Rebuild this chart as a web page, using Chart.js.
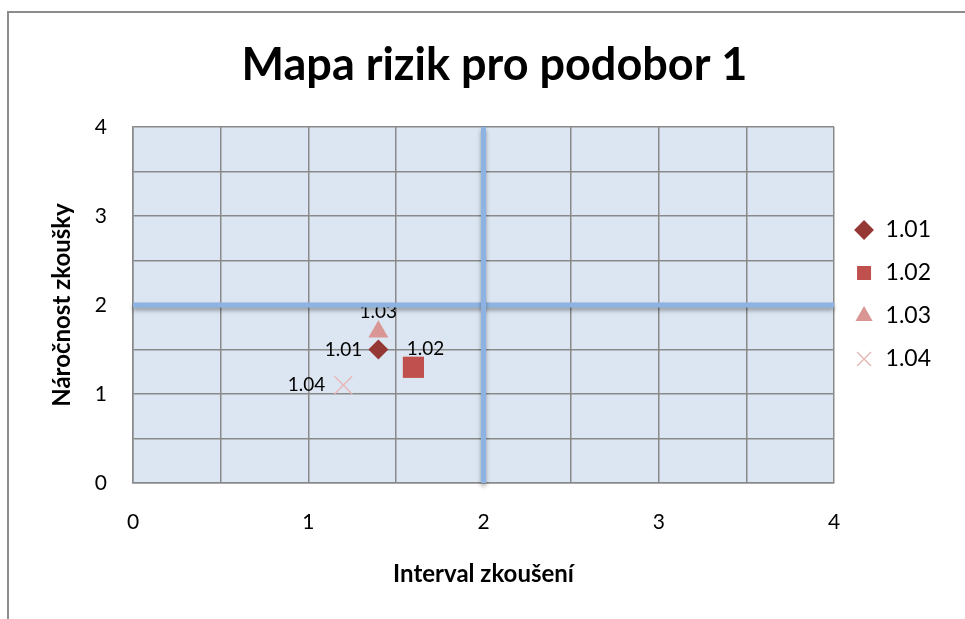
<!DOCTYPE html>
<html>
<head>
<meta charset="utf-8">
<script src="https://cdn.jsdelivr.net/npm/chart.js@4.4.0/dist/chart.umd.min.js"></script>
<style>
html, body { margin: 0; padding: 0; background: #fff; }
#wrap { position: relative; width: 965px; height: 619px; overflow: hidden; }
#frame { position: absolute; left: 7px; top: 11px; width: 990px; height: 650px; border: 2px solid #8c8c8c; box-sizing: border-box; }
canvas { position: absolute; left: 0; top: 0; }
</style>
</head>
<body>
<div id="wrap">
  <div id="frame"></div>
  <canvas id="riskChart" width="965" height="619"></canvas>
</div>
<script>
// data
const seriesNames = ['1.01', '1.02', '1.03', '1.04'];
const xValues = [1.4, 1.6, 1.4, 1.2];   // Interval zkoušení
const yValues = [1.5, 1.3, 1.7, 1.1];   // Náročnost zkoušky
const axisMin = 0;
const axisMax = 4;
const gridStep = 0.5;
const threshold = 2;  // hranice kvadrantů

// styl
const markerColors = ['#953735', '#c0504d', '#d99694', '#e6b9b8'];
const markerStyles = ['rectRot', 'rect', 'triangle', 'crossRot'];
const markerSizes = [10, 15, 11.5, 12.5];
const labelOffsets = [
    { dx: -16, dy: 0, align: 'right' },
    { dx: 12, dy: -18, align: 'center' },
    { dx: 0, dy: -20, align: 'center' },
    { dx: -18, dy: 0, align: 'right' }
];
const fontFamily = 'Lato, "Open Sans", sans-serif';

const datasets = seriesNames.map((name, i) => ({
    label: name,
    data: [{ x: xValues[i], y: yValues[i] }],
    pointStyle: markerStyles[i],
    pointRadius: markerSizes[i],
    pointHoverRadius: markerSizes[i],
    backgroundColor: markerColors[i],
    borderColor: markerColors[i],
    borderWidth: markerStyles[i] === 'crossRot' ? 1.5 : 0,
    pointLabel: true
}));

// modré čáry kvadrantů
const quadrantLine = {
    showLine: true,
    borderColor: '#8db3e2',
    borderWidth: 5,
    pointRadius: 0,
    pointHoverRadius: 0,
    clip: false,
    quadrant: true
};
datasets.push(Object.assign({ label: 'v', data: [{ x: threshold, y: axisMin }, { x: threshold, y: axisMax }] }, quadrantLine));
datasets.push(Object.assign({ label: 'h', data: [{ x: axisMin, y: threshold }, { x: axisMax, y: threshold }] }, quadrantLine));

const plotBackground = {
    id: 'plotBackground',
    beforeDraw(chart) {
        const { ctx, chartArea } = chart;
        ctx.save();
        ctx.fillStyle = '#dce6f2';
        ctx.fillRect(chartArea.left, chartArea.top, chartArea.right - chartArea.left, chartArea.bottom - chartArea.top);
        ctx.restore();
    }
};

// popisky bodů se kreslí před datasety, čára je překryje
const pointLabels = {
    id: 'pointLabels',
    beforeDatasetsDraw(chart) {
        const ctx = chart.ctx;
        ctx.save();
        ctx.font = '19px ' + fontFamily;
        ctx.fillStyle = '#000';
        ctx.textBaseline = 'middle';
        chart.data.datasets.forEach((ds, i) => {
            if (!ds.pointLabel) return;
            const pt = chart.getDatasetMeta(i).data[0];
            const off = labelOffsets[i];
            ctx.textAlign = off.align;
            ctx.fillText(ds.label, pt.x + off.dx, pt.y + off.dy);
        });
        ctx.restore();
    }
};

const lineShadow = {
    id: 'lineShadow',
    beforeDatasetDraw(chart, args) {
        if (!args.meta._dataset.quadrant) return;
        const ctx = chart.ctx;
        ctx.save();
        ctx.shadowColor = 'rgba(0,0,0,0.35)';
        ctx.shadowBlur = 4;
        ctx.shadowOffsetY = 3;
    },
    afterDatasetDraw(chart, args) {
        if (!args.meta._dataset.quadrant) return;
        chart.ctx.restore();
    }
};

const tickLabel = v => Number.isInteger(v) ? v : '';

const riskChart = new Chart(document.getElementById('riskChart'), {
    type: 'scatter',
    data: { datasets: datasets },
    options: {
        responsive: false,
        animation: false,
        devicePixelRatio: 1,
        layout: { padding: { left: 48, top: 0, right: 24, bottom: 30 } },
        plugins: {
            title: {
                display: true,
                text: 'Mapa rizik pro podobor 1',
                color: '#000',
                font: { family: fontFamily, size: 45, weight: 'bold', lineHeight: 1.2 },
                padding: { top: 38, bottom: 35 }
            },
            legend: {
                position: 'right',
                labels: {
                    filter: item => item.datasetIndex < seriesNames.length,
                    usePointStyle: true,
                    boxWidth: 20,
                    boxHeight: 14,
                    padding: 20,
                    color: '#000',
                    font: { family: fontFamily, size: 23 }
                }
            },
            tooltip: { enabled: false }
        },
        scales: {
            x: {
                type: 'linear',
                min: axisMin,
                max: axisMax,
                afterFit: scale => { scale.height = 106; },
                ticks: {
                    stepSize: gridStep,
                    autoSkip: false,
                    maxRotation: 0,
                    padding: 27,
                    color: '#000',
                    font: { family: fontFamily, size: 21 },
                    callback: tickLabel
                },
                grid: { color: '#8a8a8a', lineWidth: 1.5, drawTicks: false },
                border: { color: '#8a8a8a', width: 1.5 },
                title: {
                    display: true,
                    text: 'Interval zkoušení',
                    color: '#000',
                    font: { family: fontFamily, size: 24, weight: 'bold', lineHeight: 1.2 },
                    padding: { top: 0, bottom: 0 }
                }
            },
            y: {
                type: 'linear',
                min: axisMin,
                max: axisMax,
                afterFit: scale => { scale.width = 85; },
                ticks: {
                    stepSize: gridStep,
                    autoSkip: false,
                    padding: 26,
                    color: '#000',
                    font: { family: fontFamily, size: 21 },
                    callback: tickLabel
                },
                grid: { color: '#8a8a8a', lineWidth: 1.5, drawTicks: false },
                border: { color: '#8a8a8a', width: 1.5 },
                title: {
                    display: true,
                    text: 'Náročnost zkoušky',
                    color: '#000',
                    font: { family: fontFamily, size: 24, weight: 'bold', lineHeight: 1.2 },
                    padding: { top: 0, bottom: 0 }
                }
            }
        }
    },
    plugins: [plotBackground, pointLabels, lineShadow]
});
</script>
</body>
</html>
